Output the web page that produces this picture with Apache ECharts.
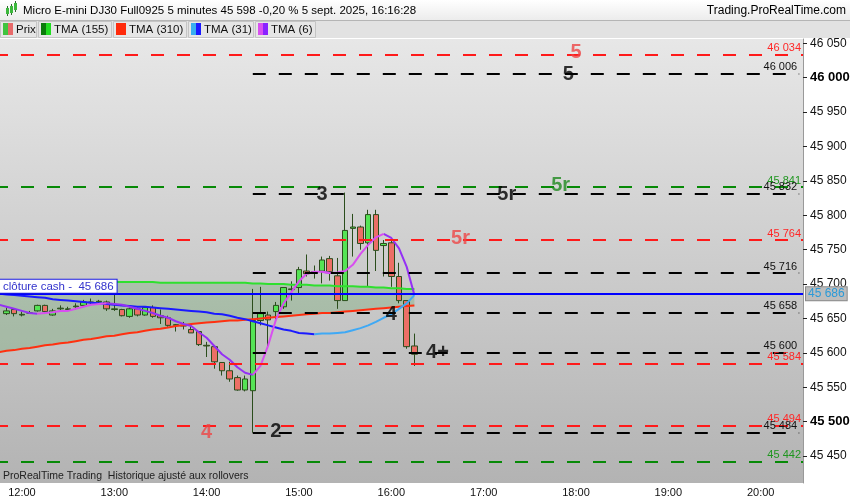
<!DOCTYPE html>
<html><head><meta charset="utf-8">
<script src="https://cdn.jsdelivr.net/npm/echarts@6/dist/echarts.min.js"></script>
<style>html,body{margin:0;padding:0;background:#fff;}#c{width:850px;height:500px;}</style>
</head><body><div id="c"></div>
<script>
// ---------- DATA ----------
const hourLabels = ['12:00','13:00','14:00','15:00','16:00','17:00','18:00','19:00','20:00'];
const yTicks = [45450,45500,45550,45600,45650,45700,45750,45800,45850,45900,45950,46000,46050];
const boldTicks = [45500,46000];

// candles 11:50 .. 16:15 (5 min)
const candleOpen  = [45657,45663,45655,45658,45661,45669,45655,45664,45663,45667,45669,45673,45674,45674,45663,45663,45653,45664,45655,45666,45654,45651,45640,45639,45634,45631,45611,45609,45586,45574,45564,45546,45545,45647,45655,45660,45667,45692,45695,45719,45717,45719,45737,45712,45676,45781,45783,45760,45801,45756,45760,45711,45676,45610];
const candleClose = [45661,45657,45656,45658,45669,45660,45661,45665,45664,45668,45674,45674,45675,45664,45664,45654,45664,45655,45666,45653,45651,45640,45641,45640,45629,45612,45610,45587,45574,45562,45546,45562,45647,45657,45648,45669,45695,45693,45721,45715,45718,45735,45718,45676,45778,45783,45759,45801,45749,45759,45711,45676,45609,45598];
const candleHigh  = [45666,45664,45660,45661,45670,45670,45664,45669,45667,45672,45677,45679,45677,45676,45685,45664,45666,45666,45667,45669,45663,45654,45642,45645,45640,45631,45616,45609,45586,45587,45567,45567,45693,45696,45660,45674,45695,45704,45725,45743,45727,45740,45741,45738,45833,45802,45785,45808,45808,45764,45763,45731,45676,45628];
const candleLow   = [45655,45653,45653,45657,45660,45658,45654,45660,45661,45663,45667,45669,45672,45661,45661,45653,45651,45653,45654,45651,45642,45638,45631,45634,45629,45610,45594,45577,45567,45558,45545,45544,45484,45640,45610,45645,45664,45676,45686,45711,45708,45701,45705,45664,45676,45740,45750,45696,45719,45711,45696,45672,45606,45581];

// moving averages 11:45 .. 16:15
const tma155 = [45705,45705,45705,45704,45704,45704,45704,45704,45703,45703,45703,45703,45703,45703,45703,45703,45703,45703,45703,45703,45703,45702,45702,45702,45702,45702,45702,45702,45702,45702,45702,45702,45702,45701,45701,45700,45700,45700,45699,45699,45699,45698,45698,45698,45697,45697,45697,45696,45696,45695,45695,45694,45694,45693,45693];
const tma310 = [45601,45603,45604,45606,45607,45609,45611,45612,45614,45615,45617,45619,45620,45622,45624,45625,45627,45629,45630,45632,45634,45635,45637,45639,45640,45642,45643,45644,45645,45646,45647,45647,45648,45649,45650,45651,45652,45653,45654,45655,45656,45657,45658,45658,45659,45660,45661,45662,45663,45664,45665,45666,45667,45668,45669];
const tma31  = [45686,45685,45684,45683,45682,45681,45680,45678,45677,45676,45675,45674,45673,45672,45671,45670,45669,45668,45667,45667,45666,45665,45664,45663,45662,45661,45660,45659,45657,45656,45654,45651,45649,45646,45643,45640,45637,45634,45632,45629,45628,45627,45628,45628,45629,45630,45633,45636,45640,45645,45651,45656,45664,45672,45684];
const tma6   = [45670,45667,45664,45661,45658,45657,45658,45659,45661,45661,45664,45667,45670,45671,45672,45671,45670,45667,45664,45661,45658,45654,45651,45646,45642,45639,45630,45622,45610,45598,45590,45579,45571,45568,45581,45611,45648,45672,45688,45704,45715,45718,45718,45716,45717,45719,45728,45744,45757,45768,45773,45767,45752,45725,45684];

// horizontal levels
const levelValues = [46034,46006,45841,45832,45764,45716,45658,45600,45584,45494,45484,45442];
const levelKinds  = ['red','black','green','black','red','black','black','black','red','red','black','green'];
const cashClose = 45686;
const lastPrice = 45598;

// annotations
const annotTexts  = ['5','5','5r','5r','5r','3','4','4+','2','4'];
const annotTimes  = ['18:00','17:55','17:50','17:15','16:45','15:15','16:00','16:30','14:45','14:00'];
const annotValues = [46037,46004,45844,45830,45766,45830,45656,45600,45485,45484];
const annotKinds  = ['red','black','green','black','red','black','black','black','black','red'];

// ---------- BUILD ----------
const pad = n => (n<10?'0':'')+n;
const categories = [];
for (let m = 11*60+45; m <= 20*60+25; m += 5) categories.push(pad(Math.floor(m/60))+':'+pad(m%60));
const fmt = v => String(v).replace(/\B(?=(\d{3})+(?!\d))/g, ' ');
const FONT = 'Liberation Sans, Arial, sans-serif';

const candleData = ['-'].concat(candleOpen.map((o,i)=>[o, candleClose[i], candleLow[i], candleHigh[i]]));
const bandDiff = tma155.map((v,i)=> v - tma310[i]);

function splitTrend(arr){
  const up = arr.map(()=> '-'), dn = arr.map(()=> '-');
  let prev = 0;
  for (let i=0;i<arr.length-1;i++){
    let d = arr[i+1]-arr[i];
    let s = d>0 ? 1 : d<0 ? -1 : prev;
    const t = s>0 ? up : dn;
    t[i] = arr[i]; t[i+1] = arr[i+1];
    prev = s;
  }
  return [up, dn];
}
const [t31up, t31dn] = splitTrend(tma31);
const [t6up, t6dn] = splitTrend(tma6);

const lineColor = {red:'#ff1a1a', black:'#000000', green:'#078a07'};
const labColor  = {red:'#ff2626', black:'#111111', green:'#1f961f'};
const annColor  = {red:'#ee4646', black:'#000000', green:'#1f8a1f'};

const mlData = [];
levelValues.forEach((v,i)=>{
  const k = levelKinds[i];
  const ls = {color: lineColor[k], type:[13,13], width:2};
  const lab = {show:true, position:'insideEndTop', formatter: fmt(v), color: labColor[k], fontSize: 11, fontFamily: FONT, distance:[2,1]};
  if (k === 'black') mlData.push([{xAxis:'14:30', yAxis:v, lineStyle:ls, label:lab}, {xAxis: categories[categories.length-1], yAxis:v}]);
  else mlData.push({yAxis:v, lineStyle:ls, label:lab});
});
mlData.push({yAxis: cashClose, lineStyle:{color:'#0000ff', type:'solid', width:2},
  label:{show:true, position:'end', distance:3, formatter: fmt(cashClose), color:'#2a9ad8', fontSize:12, fontFamily:FONT,
    backgroundColor:'#bdbdbd', borderColor:'#8a8a8a', borderWidth:1, padding:[1,2,0,2]}});
mlData.push({yAxis: cashClose, lineStyle:{color:'#0000ff', type:'solid', width:2},
  label:{show:true, position:'insideStartTop', distance:[5,1], formatter: 'clôture cash -  ' + fmt(cashClose), color:'#3333cc', fontSize:11.5, fontFamily:FONT,
    backgroundColor:'#ffffff', borderColor:'#1a1ae0', borderWidth:1, padding:[1,3,0,3]}});
mlData.push({yAxis: lastPrice, lineStyle:{opacity:0},
  label:{show:true, position:'end', distance:3, formatter: fmt(lastPrice), color:'#000', fontSize:12, fontFamily:FONT,
    backgroundColor:'#ffcf10', borderColor:'#b88400', borderWidth:1, padding:[1,2,0,2]}});

const annData = annotTexts.map((t,i)=>({name:t, value:[annotTimes[i], annotValues[i]], label:{color: annColor[annotKinds[i]]}}));

// chrome graphics
const g = [];
g.push({type:'rect', shape:{x:0,y:0,width:850,height:20}, style:{fill:{type:'linear',x:0,y:0,x2:0,y2:1,colorStops:[{offset:0,color:'#ffffff'},{offset:1,color:'#ececec'}]}, stroke:null}, z:0});
g.push({type:'rect', shape:{x:0,y:20,width:850,height:18}, style:{fill:'#e2e2e2'}, z:0});
g.push({type:'line', shape:{x1:0,y1:20.5,x2:850,y2:20.5}, style:{stroke:'#b5b5b5', lineWidth:1}, z:1});
[[6,8,3,6,'#3cb83c'],[10,6,3,7,'#3cb83c'],[14,3,3,7,'#3cb83c']].forEach(r=>{
  g.push({type:'line', shape:{x1:r[0]+1.5,y1:r[1]-2,x2:r[0]+1.5,y2:r[1]+r[3]+2}, style:{stroke:'#2e6a2e', lineWidth:1}, z:2});
  g.push({type:'rect', shape:{x:r[0],y:r[1],width:r[2],height:r[3]}, style:{fill:r[4]}, z:3});
});
g.push({type:'text', x:23, y:11, style:{text:'Micro E-mini DJ30 Full0925 5 minutes 45 598 -0,20 % 5 sept. 2025, 16:16:28', font:'11.5px '+FONT, fill:'#000', textAlign:'left', textVerticalAlign:'middle'}, z:3});
g.push({type:'text', x:846, y:11, style:{text:'Trading.ProRealTime.com', font:'12px '+FONT, fill:'#000', textAlign:'right', textVerticalAlign:'middle'}, z:3});
const legendItems = [
  {text:'Prix', c1:'#3fc43f', c2:'#e86a6a', x0:0, x1:37},
  {text:'TMA (155)', c1:'#0a7a0a', c2:'#20dd20', x0:38, x1:112},
  {text:'TMA (310)', c1:'#ff2a0a', c2:'#ff2a0a', x0:113, x1:187},
  {text:'TMA (31)', c1:'#38aef0', c2:'#1a1aff', x0:188, x1:254},
  {text:'TMA (6)', c1:'#d84ff0', c2:'#8a22ff', x0:255, x1:316}
];
legendItems.forEach(it=>{
  g.push({type:'rect', shape:{x:it.x0+0.5,y:21.5,width:it.x1-it.x0-1,height:16}, style:{fill:'#e6e6e6', stroke:'#c4c4c4', lineWidth:1}, z:1});
  g.push({type:'rect', shape:{x:it.x0+3,y:23,width:5,height:12}, style:{fill:it.c1}, z:2});
  g.push({type:'rect', shape:{x:it.x0+8,y:23,width:5,height:12}, style:{fill:it.c2}, z:2});
  g.push({type:'text', x:it.x0+16, y:29.5, style:{text:it.text, font:'11.5px '+FONT, fill:'#111', textAlign:'left', textVerticalAlign:'middle'}, z:2});
});
g.push({type:'text', x:3, y:476, style:{text:'ProRealTime Trading  Historique ajusté aux rollovers', font:'10.5px "Liberation Sans Narrow", '+FONT, fill:'#222', textAlign:'left', textVerticalAlign:'middle'}, z:100});

const chart = echarts.init(document.getElementById('c'), null, {renderer:'canvas'});
chart.setOption({
  animation:false,
  backgroundColor:'#ffffff',
  graphic: g,
  grid:{left:-5, right:47, top:39, bottom:17, show:true, borderWidth:0, containLabel:false, outerBoundsMode:'none',
    backgroundColor:{type:'linear',x:0,y:0,x2:0,y2:1,colorStops:[{offset:0,color:'#e7e7e7'},{offset:1,color:'#b3b3b3'}]}},
  xAxis:{type:'category', data:categories, boundaryGap:true,
    axisLine:{show:false}, axisTick:{show:false}, splitLine:{show:false},
    axisLabel:{interval:(i,v)=>hourLabels.indexOf(v)>=0, color:'#111', fontSize:11, fontFamily:FONT, margin:4}},
  yAxis:{type:'value', position:'right', min:45410.8, max:46056.3, scale:true,
    axisLine:{show:true, lineStyle:{color:'#999', width:1}},
    axisTick:{show:true, length:4, customValues:yTicks, lineStyle:{color:'#222'}},
    splitLine:{show:false},
    axisLabel:{customValues:yTicks, margin:7, color:'#111', fontSize:12, fontFamily:FONT,
      formatter:v=> boldTicks.indexOf(v)>=0 ? '{b|'+fmt(v)+'}' : fmt(v),
      rich:{b:{fontWeight:'bold', fontSize:13, color:'#000', fontFamily:FONT}}}},
  series:[
    {type:'line', name:'bandBase', data:tma310, stack:'band', symbol:'none', lineStyle:{opacity:0}, silent:true, z:1},
    {type:'line', name:'bandFill', data:bandDiff, stack:'band', symbol:'none', lineStyle:{opacity:0}, areaStyle:{color:'rgba(0,128,0,0.22)'}, silent:true, z:1},
    {type:'candlestick', name:'Prix', data:candleData, barWidth:6, z:2,
      itemStyle:{color:'#55e455', color0:'#ec6f66', borderColor:'#2b4d1c', borderColor0:'#2b4d1c', borderWidth:1}},
    {type:'line', name:'TMA (155)', data:tma155, symbol:'none', lineStyle:{color:'#2ee02e', width:2}, z:3},
    {type:'line', name:'TMA (310)', data:tma310, symbol:'none', lineStyle:{color:'#ff3010', width:2}, z:3},
    {type:'line', name:'TMA (31) down', data:t31dn, symbol:'none', lineStyle:{color:'#1a1aff', width:2}, z:3},
    {type:'line', name:'TMA (31) up', data:t31up, symbol:'none', lineStyle:{color:'#3fa9f5', width:2}, z:3},
    {type:'line', name:'TMA (6) down', data:t6dn, symbol:'none', lineStyle:{color:'#9430f5', width:2}, z:3},
    {type:'line', name:'TMA (6) up', data:t6up, symbol:'none', lineStyle:{color:'#d84ff0', width:2}, z:3},
    {type:'scatter', name:'annot', data:annData, symbolSize:0, z:5,
      label:{show:true, position:'inside', formatter:p=>p.name, fontSize:20, fontWeight:'bold', fontFamily:FONT},
      markLine:{silent:true, symbol:['none','none'], data:mlData}}
  ]
});
</script></body></html>
